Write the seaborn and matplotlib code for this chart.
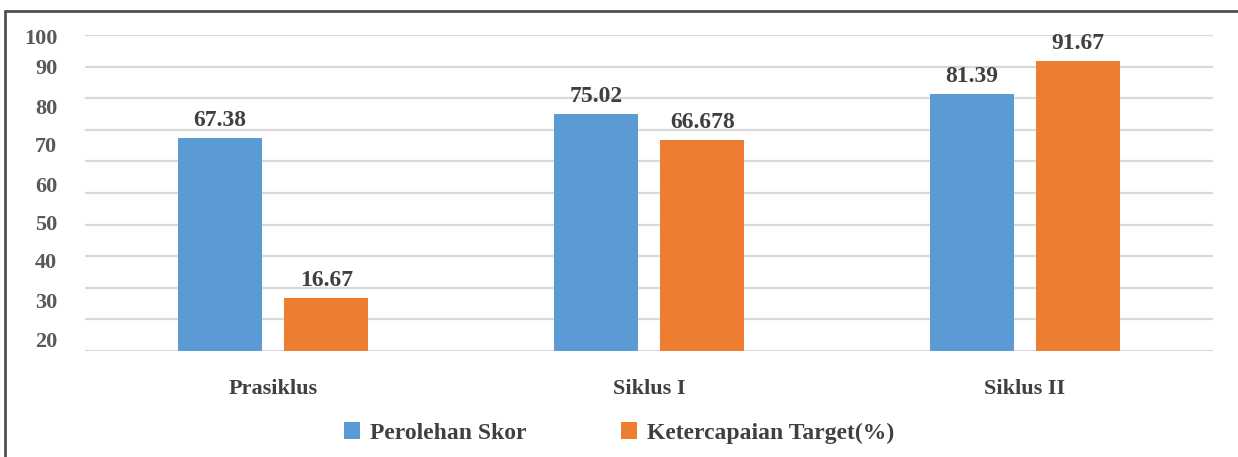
import matplotlib
matplotlib.use("Agg")
import matplotlib.pyplot as plt
from matplotlib.lines import Line2D
import seaborn as sb
import pandas as pd

categories = ["Prasiklus", "Siklus I", "Siklus II"]
skor = [67.38, 75.02, 81.39]
target = [16.67, 66.678, 91.67]
skor_labels = ["67.38", "75.02", "81.39"]
target_labels = ["16.67", "66.678", "91.67"]
series = ["Perolehan Skor", "Ketercapaian Target(%)"]

# the y labels in the source sit off their gridlines, keep them where they were drawn
ytick_labels = ["100", "90", "80", "70", "60", "50", "40", "30", "20"]
ytick_pos = [99.4, 89.9, 77.5, 65.2, 52.8, 40.8, 28.5, 16.1, 3.5]

df = pd.DataFrame({
    "Siklus": categories * 2,
    "Nilai": skor + target,
    "Seri": [series[0]] * 3 + [series[1]] * 3,
})

sb.set_style("white")
plt.rcParams["font.family"] = ["Liberation Serif", "DejaVu Serif"]
plt.rcParams["font.weight"] = "bold"

fig = plt.figure(figsize=(12.38, 4.57), dpi=100)
ax = fig.add_axes([85 / 1238, 106 / 457, 1128 / 1238, 316 / 457])

sb.barplot(data=df, x="Siklus", y="Nilai", hue="Seri", ax=ax,
           palette=["#5B9BD5", "#ED7D31"], width=0.566, gap=0.21,
           linewidth=0, saturation=1)

for cont, labs in zip(ax.containers, [skor_labels, target_labels]):
    ax.bar_label(cont, labels=labs, padding=5, fontsize=17,
                 fontweight="bold", color="#404040")

ax.set_ylim(0, 100)
ax.set_xlim(-0.5, 2.5)
ax.set_yticks(ytick_pos)
ax.set_yticklabels(ytick_labels)
ax.set_yticks(range(0, 101, 10), minor=True)
ax.grid(False)
ax.grid(True, which="minor", axis="y", color="#d9d9d9", linewidth=1.6)
ax.set_axisbelow(True)
ax.tick_params(axis="y", which="both", length=0, pad=20, labelsize=16,
               labelcolor="#595959")
ax.tick_params(axis="x", length=0, pad=20, labelsize=16, labelcolor="#404040")
for lab in ax.get_xticklabels() + ax.get_yticklabels():
    lab.set_fontweight("bold")
ax.set_xlabel("")
ax.set_ylabel("")
sb.despine(ax=ax, left=True, bottom=True)

leg = ax.legend(loc="center", bbox_to_anchor=(0.5, 24 / 457),
                bbox_transform=fig.transFigure, ncol=2, frameon=False,
                fontsize=17, handlelength=0.7, handleheight=0.7,
                handletextpad=0.4, columnspacing=4.0)
for t in leg.get_texts():
    t.set_color("#404040")
    t.set_fontweight("bold")

# outer chart frame
fig.add_artist(Line2D([5 / 1238, 1.0], [1 - 11 / 457, 1 - 11 / 457],
                      transform=fig.transFigure, color="#505050", lw=2))
fig.add_artist(Line2D([5 / 1238, 5 / 1238], [0, 1 - 11 / 457],
                      transform=fig.transFigure, color="#505050", lw=2))

fig.savefig("out.png", dpi=100)
